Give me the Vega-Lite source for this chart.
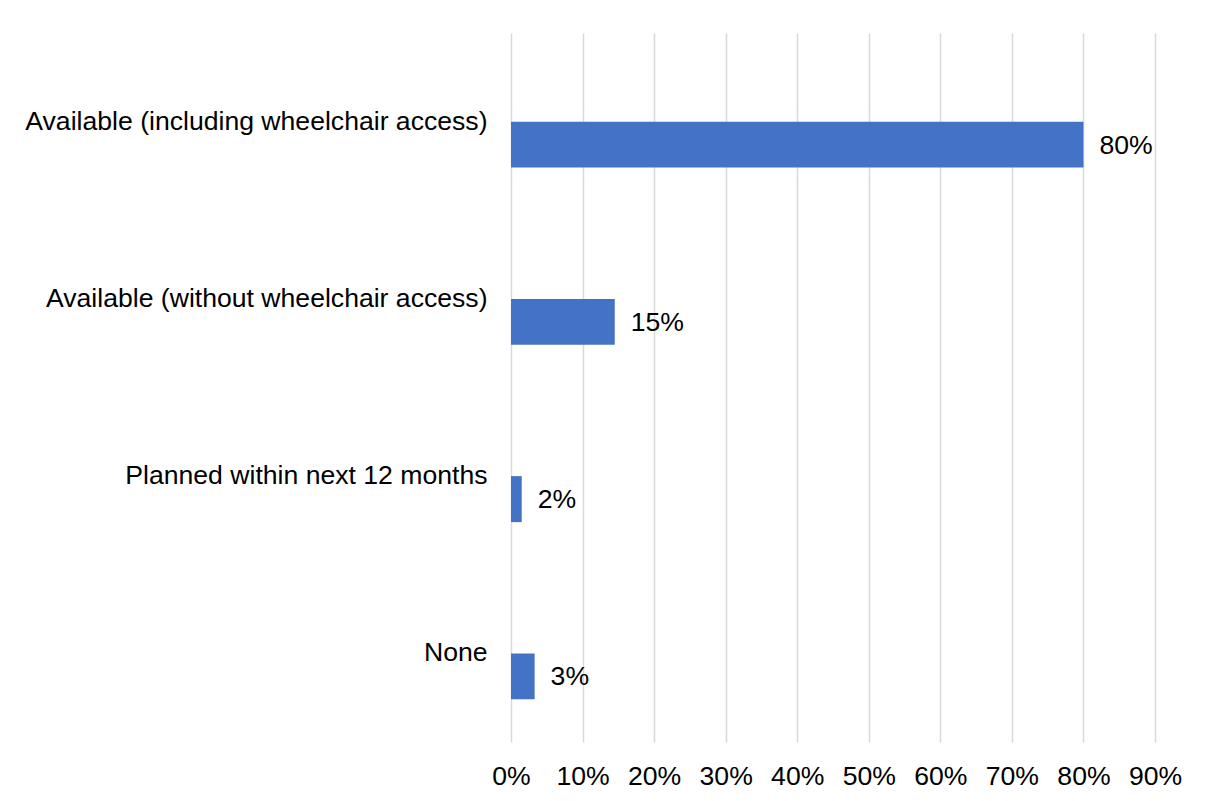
{
  "$schema": "https://vega.github.io/schema/vega-lite/v6.json",
  "autosize": "none",
  "width": 644,
  "height": 709,
  "padding": {"left": 511, "top": 33, "right": 50, "bottom": 59},
  "background": "white",
  "config": {
    "font": "Liberation Sans",
    "view": {"stroke": null}
  },
  "data": {
    "values": [
      {"category": "Available (including wheelchair access)", "series": "Share", "value": 0.80, "label": "80%"},
      {"category": "Available (without wheelchair access)", "series": "Share", "value": 0.145, "label": "15%"},
      {"category": "Planned within next 12 months", "series": "Share", "value": 0.015, "label": "2%"},
      {"category": "None", "series": "Share", "value": 0.033, "label": "3%"}
    ]
  },
  "encoding": {
    "y": {
      "field": "category",
      "type": "nominal",
      "sort": null,
      "scale": {"paddingInner": 0, "paddingOuter": 0},
      "axis": {
        "title": null,
        "domain": false,
        "ticks": false,
        "labelFontSize": 26.6,
        "labelColor": "#000000",
        "labelPadding": 24,
        "labelLimit": 600,
        "labelAlign": "right",
        "labelBaseline": "middle"
      }
    },
    "yOffset": {
      "field": "series",
      "type": "nominal",
      "scale": {"domain": ["blank", "Share"], "paddingInner": 0, "paddingOuter": 0.927}
    },
    "x": {
      "field": "value",
      "type": "quantitative",
      "scale": {"domain": [0, 0.9], "nice": false},
      "axis": {
        "title": null,
        "format": ".0%",
        "values": [0, 0.1, 0.2, 0.3, 0.4, 0.5, 0.6, 0.7, 0.8, 0.9],
        "grid": true,
        "gridColor": "#d9d9d9",
        "gridWidth": 1.5,
        "domain": false,
        "ticks": false,
        "labelFontSize": 26.6,
        "labelColor": "#000000",
        "labelPadding": 21,
        "labelFlush": false,
        "labelOverlap": false
      }
    }
  },
  "layer": [
    {
      "mark": {"type": "bar", "color": "#4472C4"}
    },
    {
      "mark": {"type": "text", "align": "left", "baseline": "middle", "dx": 16, "dy": 1, "fontSize": 26.6, "color": "#000000"},
      "encoding": {
        "text": {"field": "label", "type": "nominal"}
      }
    }
  ]
}
